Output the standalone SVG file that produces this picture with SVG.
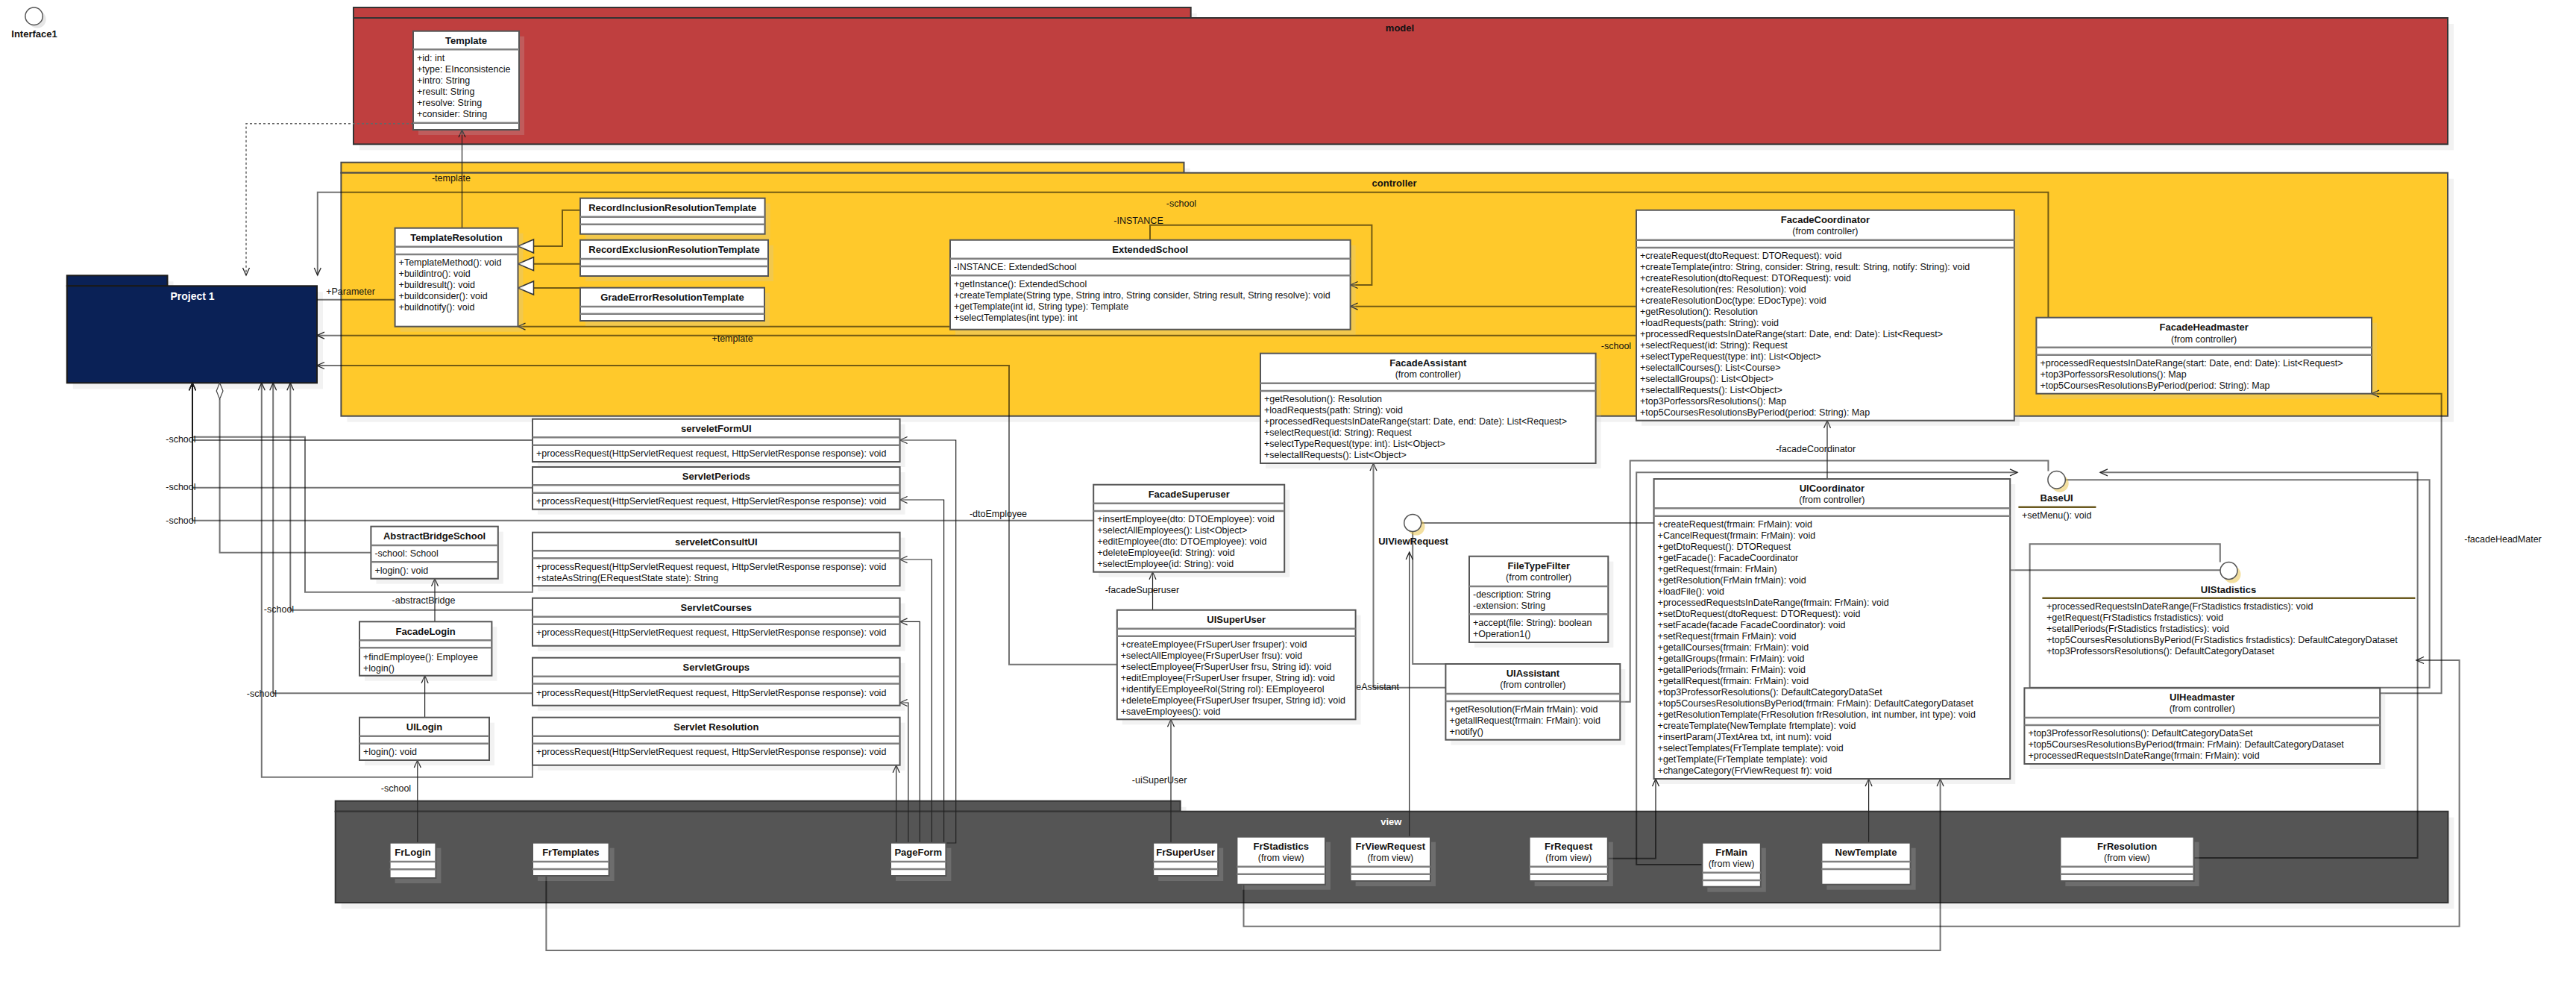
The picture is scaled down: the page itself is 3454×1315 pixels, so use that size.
<svg xmlns="http://www.w3.org/2000/svg" width="3454" height="1315" viewBox="0 0 3454 1315">
<defs>
<style>
text{font-family:"Liberation Sans",Arial,sans-serif;font-size:12.5px;fill:#111}
.ti{font-weight:bold;font-size:13px;text-anchor:middle}
.c{text-anchor:middle}
.sh{fill:#c5c5c5;fill-opacity:.22}
.bx{fill:#fff;stroke:#555;stroke-width:2}
.sp{stroke:#808080;stroke-width:2.5;fill:none}
.ln{fill:none;stroke:#000;stroke-opacity:.55;stroke-width:2}
.tn{fill:none;stroke:#222;stroke-width:1.2}
.ds{fill:none;stroke:#666;stroke-width:1.5;stroke-dasharray:3 3}
.pk{stroke:#333;stroke-width:2}
</style>
<marker id="ar" viewBox="-12 -6 14 12" refX="0" refY="0" markerWidth="14" markerHeight="12" markerUnits="userSpaceOnUse" orient="auto"><path d="M-10,-4.5L0,0L-10,4.5" fill="none" stroke="#222" stroke-width="1.3"/></marker>
<marker id="gen" viewBox="-23 -11 25 22" refX="0" refY="0" markerWidth="25" markerHeight="22" markerUnits="userSpaceOnUse" orient="auto"><path d="M0,0L-21,-9L-21,9Z" fill="#fff" stroke="#333" stroke-width="1.5"/></marker>
</defs>
<rect width="3454" height="1315" fill="#fff"/>

<g id="pkg-model">
<rect class="sh" x="482" y="18" width="1122.7" height="14"/><rect class="sh" x="482" y="32" width="2808" height="169.3"/>
<rect class="pk" x="474" y="10" width="1122.7" height="14" fill="#BF3F3F"/>
<rect class="pk" x="474" y="24" width="2808" height="169.3" fill="#BF3F3F"/>
<text class="ti" x="1877" y="42">model</text>
</g>
<g id="pkg-controller">
<rect class="sh" x="465.4" y="225.7" width="1130.1" height="14"/><rect class="sh" x="465.4" y="239.7" width="2824.6" height="326"/>
<rect x="457.4" y="217.7" width="1130.1" height="14" fill="#FFC92B" stroke="#4a4a4a" stroke-width="2"/>
<rect x="457.4" y="231.7" width="2824.6" height="326" fill="#FFC92B" stroke="#4a4a4a" stroke-width="2"/>
<text class="ti" x="1869.6" y="250">controller</text>
</g>
<g id="pkg-view">
<rect class="sh" x="457.7" y="1081.7" width="1132.9" height="14"/><rect class="sh" x="457.7" y="1095.7" width="2832.7" height="122.3"/>
<rect class="pk" x="449.7" y="1073.7" width="1132.9" height="14" fill="#555"/>
<rect class="pk" x="449.7" y="1087.7" width="2832.7" height="122.3" fill="#555"/>
<text class="ti" x="1865.3" y="1106" style="fill:#fff">view</text>
</g>
<g id="pkg-project1">
<rect class="sh" x="97.8" y="377.3" width="134.7" height="14"/><rect class="sh" x="97.8" y="391.3" width="335.2" height="130"/>
<rect x="89.8" y="369.3" width="134.7" height="14" fill="#0A2156" stroke="#1a1a1a" stroke-width="2"/>
<rect x="89.8" y="383.3" width="335.2" height="130" fill="#0A2156" stroke="#1a1a1a" stroke-width="2"/>
<text class="ti" x="258" y="402" style="fill:#fff;font-size:14px">Project 1</text>
</g>

<g id="connectors">
<path class="ds" d="M554,165.7H330V369" marker-end="url(#ar)"/>
<path class="tn" d="M619.5,305.7V174" marker-end="url(#ar)"/>
<path class="ln" d="M425,401.7H529.6"/>
<path class="ln" d="M778,281.7H754V330H694.5" marker-end="url(#gen)"/>
<path class="ln" d="M778,353.7H694.5" marker-end="url(#gen)"/>
<path class="ln" d="M778,386H694.5" marker-end="url(#gen)"/>
<path class="ln" d="M1274,437.7H694.5" marker-end="url(#ar)"/>
<path class="ln" d="M1542,321.7V301.7H1839.4V382H1810.6" marker-end="url(#ar)"/>
<path class="ln" d="M2194,410.7H1810.6" marker-end="url(#ar)"/>
<path class="ln" d="M2746.4,425.7V257.7H425.8V369" marker-end="url(#ar)"/>
<path class="ln" d="M2194,449.7H425" marker-end="url(#ar)"/>
<path class="ln" d="M1497.8,890.7H1353V490H425" marker-end="url(#ar)"/>
<path class="ln" d="M714,590H258V513.3" marker-end="url(#ar)"/>
<path class="ln" d="M714,653.7H258V513.3" marker-end="url(#ar)"/>
<path class="ln" d="M1466.2,697.7H258V513.3" marker-end="url(#ar)"/>
<path class="ln" d="M714,785.3V793.7H409V585.7H258V513.3" marker-end="url(#ar)"/>
<path class="tn" d="M258,697.7V513.3"/>
<path class="ln" d="M497.4,740.7H294.6V535"/>
<polygon points="294.6,513.3 299,524 294.6,535 290.2,524" fill="#fff" stroke="#444" stroke-width="1.2"/>
<path class="ln" d="M714,1025.7V1041.7H350.8V513.3" marker-end="url(#ar)"/>
<path class="ln" d="M714,929.3H366.2V513.3" marker-end="url(#ar)"/>
<path class="ln" d="M714,817.7H389.3V513.3" marker-end="url(#ar)"/>
<path class="tn" d="M583,833.3V775.7" marker-end="url(#ar)"/>
<path class="tn" d="M569.6,961.7V905.7" marker-end="url(#ar)"/>
<path class="tn" d="M559.8,1129.7V1019" marker-end="url(#ar)"/>
<path class="tn" d="M1201.7,1129.7V1025.7" marker-end="url(#ar)"/>
<path class="tn" d="M1217.9,1129.7V942H1206.6" marker-end="url(#ar)"/>
<path class="tn" d="M1233.3,1129.7V833.3H1206.6" marker-end="url(#ar)"/>
<path class="tn" d="M1249.4,1129.7V750H1206.6" marker-end="url(#ar)"/>
<path class="tn" d="M1265.6,1129.7V670H1206.6" marker-end="url(#ar)"/>
<path class="tn" d="M1268.4,1130H1281.7V590H1206.6" marker-end="url(#ar)"/>
<path class="tn" d="M1545.5,817.7V766.7" marker-end="url(#ar)"/>
<path class="tn" d="M1570,1129.7V964.3" marker-end="url(#ar)"/>
<path class="ln" d="M1938.4,921.7H1841.5V621" marker-end="url(#ar)"/>
<path class="tn" d="M1889.7,1121.7V740" marker-end="url(#ar)"/>
<path class="ln" d="M1938.4,890H1894.2V712.5"/>
<path class="ln" d="M1905.7,701H2217.6"/>
<path class="ln" d="M2172.3,940.7H2185.7V617.5H2746.4V631.6"/>
<path class="ln" d="M2282.4,1159H2194.2V633.3H2705" marker-end="url(#ar)"/>
<path class="ln" d="M2155.8,1150.7H2220V1044" marker-end="url(#ar)"/>
<path class="tn" d="M2505.6,1129.7V1044" marker-end="url(#ar)"/>
<path class="ln" d="M732.4,1174V1274H2601.6V1044" marker-end="url(#ar)"/>
<path class="tn" d="M2450,642V563.7" marker-end="url(#ar)"/>
<path class="ln" d="M2941.6,1150H3241.6V633.3H2816" marker-end="url(#ar)"/>
<path class="ln" d="M2769.3,643.3H3257.6V921.7H2721.6V729.3H2976.8V753.5"/>
<path class="ln" d="M2695.2,764.3H2977"/>
<path class="ln" d="M3191.2,929.3H3273.6V527.7H3180" marker-end="url(#ar)"/>
<path class="ln" d="M1667.5,1185.7V1241.7H3297.6V885H3240" marker-end="url(#ar)"/>
<text class="c" x="605" y="243">-template</text>
<text class="c" x="470" y="395">+Parameter</text>
<text class="c" x="1526.5" y="299.5">-INSTANCE</text>
<text class="c" x="1584" y="277">-school</text>
<text class="c" x="982" y="458">+template</text>
<text class="c" x="2167" y="467.5">-school</text>
<text class="c" x="242.4" y="593">-school</text>
<text class="c" x="242.4" y="657">-school</text>
<text class="c" x="242.4" y="701.5">-school</text>
<text class="c" x="374" y="821">-school</text>
<text class="c" x="351" y="933.5">-school</text>
<text class="c" x="531" y="1061">-school</text>
<text class="c" x="568" y="808.5">-abstractBridge</text>
<text class="c" x="1338.5" y="693">-dtoEmployee</text>
<text class="c" x="1531.4" y="795">-facadeSuperuser</text>
<text class="c" x="1554.6" y="1050">-uiSuperUser</text>
<text x="1876" y="925" text-anchor="end">-facadeAssistant</text>
<text class="c" x="2434.7" y="606">-facadeCoordinator</text>
<text class="c" x="3356" y="727">-facadeHeadMater</text>
</g>

<g id="Interface1"><circle cx="50" cy="26" r="11.7" fill="#e6e6e6"/><circle cx="45.6" cy="21.7" r="11.7" fill="#fff" stroke="#555" stroke-width="1.5"/><text class="ti" x="46" y="50">Interface1</text></g>

<g id="Template"><rect class="sh" x="561" y="48.7" width="142" height="132.3"/><rect class="bx" x="554" y="41.7" width="142" height="132.3"/><path class="sp" d="M554,66.3H696M554,164.7H696"/>
<text class="ti" x="625" y="58.5">Template</text>
<text x="559" y="82.2">+id: int</text><text x="559" y="97.2">+type: EInconsistencie</text><text x="559" y="112.2">+intro: String</text><text x="559" y="127.2">+result: String</text><text x="559" y="142.2">+resolve: String</text><text x="559" y="157.2">+consider: String</text></g>

<g id="TemplateResolution"><rect class="sh" x="536.6" y="312.7" width="164.9" height="132"/><rect class="bx" x="529.6" y="305.7" width="164.9" height="132"/><path class="sp" d="M529.6,330.7H694.5M529.6,341H694.5"/>
<text class="ti" x="612" y="322.8">TemplateResolution</text>
<text x="534.6" y="355.5">+TemplateMethod(): void</text><text x="534.6" y="370.5">+buildintro(): void</text><text x="534.6" y="385.5">+buildresult(): void</text><text x="534.6" y="400.5">+buildconsider(): void</text><text x="534.6" y="415.5">+buildnotify(): void</text></g>

<g id="RecordInclusionResolutionTemplate"><rect class="sh" x="785" y="272.7" width="247.6" height="48"/><rect class="bx" x="778" y="265.7" width="247.6" height="48"/><path class="sp" d="M778,290.7H1025.6M778,300.7H1025.6"/><text class="ti" x="901.8" y="282.5">RecordInclusionResolutionTemplate</text></g>
<g id="RecordExclusionResolutionTemplate"><rect class="sh" x="785" y="328.7" width="252" height="48.3"/><rect class="bx" x="778" y="321.7" width="252" height="48.3"/><path class="sp" d="M778,347H1030M778,357H1030"/><text class="ti" x="904" y="338.5">RecordExclusionResolutionTemplate</text></g>
<g id="GradeErrorResolutionTemplate"><rect class="sh" x="785" y="392.7" width="247" height="44.3"/><rect class="bx" x="778" y="385.7" width="247" height="44.3"/><path class="sp" d="M778,411H1025M778,420.7H1025"/><text class="ti" x="901.5" y="402.8">GradeErrorResolutionTemplate</text></g>

<g id="ExtendedSchool"><rect class="sh" x="1281" y="328.7" width="536.6" height="120"/><rect class="bx" x="1274" y="321.7" width="536.6" height="120"/><path class="sp" d="M1274,346.7H1810.6M1274,369.3H1810.6"/>
<text class="ti" x="1542.3" y="338.8">ExtendedSchool</text>
<text x="1279" y="362.2">-INSTANCE: ExtendedSchool</text>
<text x="1279" y="385.2">+getInstance(): ExtendedSchool</text><text x="1279" y="400.2">+createTemplate(String type, String intro, String consider, String result, String resolve): void</text><text x="1279" y="415.2">+getTemplate(int id, String type): Template</text><text x="1279" y="430.2">+selectTemplates(int type): int</text></g>

<g id="FacadeCoordinator"><rect class="sh" x="2201" y="288.7" width="506.8" height="282"/><rect class="bx" x="2194" y="281.7" width="506.8" height="282"/><path class="sp" d="M2194,321.7H2700.8M2194,332H2700.8"/>
<text class="ti" x="2447.4" y="299.2">FacadeCoordinator</text><text class="c" x="2447.4" y="314.2">(from controller)</text>
<text x="2199" y="346.8">+createRequest(dtoRequest: DTORequest): void</text>
<text x="2199" y="361.8">+createTemplate(intro: String, consider: String, result: String, notify: String): void</text>
<text x="2199" y="376.8">+createResolution(dtoRequest: DTORequest): void</text>
<text x="2199" y="391.8">+createResolution(res: Resolution): void</text>
<text x="2199" y="406.8">+createResolutionDoc(type: EDocType): void</text>
<text x="2199" y="421.8">+getResolution(): Resolution</text>
<text x="2199" y="436.8">+loadRequests(path: String): void</text>
<text x="2199" y="451.8">+processedRequestsInDateRange(start: Date, end: Date): List&lt;Request&gt;</text>
<text x="2199" y="466.8">+selectRequest(id: String): Request</text>
<text x="2199" y="481.8">+selectTypeRequest(type: int): List&lt;Object&gt;</text>
<text x="2199" y="496.8">+selectallCourses(): List&lt;Course&gt;</text>
<text x="2199" y="511.8">+selectallGroups(): List&lt;Object&gt;</text>
<text x="2199" y="526.8">+selectallRequests(): List&lt;Object&gt;</text>
<text x="2199" y="541.8">+top3PorfessorsResolutions(): Map</text>
<text x="2199" y="556.8">+top5CoursesResolutionsByPeriod(period: String): Map</text></g>

<g id="FacadeHeadmaster"><rect class="sh" x="2737.4" y="432.7" width="449.6" height="102"/><rect class="bx" x="2730.4" y="425.7" width="449.6" height="102"/><path class="sp" d="M2730.4,465.7H3180M2730.4,475.7H3180"/>
<text class="ti" x="2955.2" y="442.8">FacadeHeadmaster</text><text class="c" x="2955.2" y="458.5">(from controller)</text>
<text x="2735.4" y="491.2">+processedRequestsInDateRange(start: Date, end: Date): List&lt;Request&gt;</text><text x="2735.4" y="506.2">+top3PorfessorsResolutions(): Map</text><text x="2735.4" y="521.2">+top5CoursesResolutionsByPeriod(period: String): Map</text></g>

<g id="FacadeAssistant"><rect class="sh" x="1697" y="480.7" width="449.6" height="147.3"/><rect class="bx" x="1690" y="473.7" width="449.6" height="147.3"/><path class="sp" d="M1690,513.7H2139.6M1690,524H2139.6"/>
<text class="ti" x="1914.8" y="490.5">FacadeAssistant</text><text class="c" x="1914.8" y="506.2">(from controller)</text>
<text x="1695" y="539.2">+getResolution(): Resolution</text><text x="1695" y="554.2">+loadRequests(path: String): void</text><text x="1695" y="569.2">+processedRequestsInDateRange(start: Date, end: Date): List&lt;Request&gt;</text><text x="1695" y="584.2">+selectRequest(id: String): Request</text><text x="1695" y="599.2">+selectTypeRequest(type: int): List&lt;Object&gt;</text><text x="1695" y="614.2">+selectallRequests(): List&lt;Object&gt;</text></g>

<g id="FacadeSuperuser"><rect class="sh" x="1473.2" y="656.7" width="256" height="117"/><rect class="bx" x="1466.2" y="649.7" width="256" height="117"/><path class="sp" d="M1466.2,674.7H1722.2M1466.2,685H1722.2"/>
<text class="ti" x="1594.2" y="666.8">FacadeSuperuser</text>
<text x="1471.2" y="700.2">+insertEmployee(dto: DTOEmployee): void</text><text x="1471.2" y="715.2">+selectAllEmployees(): List&lt;Object&gt;</text><text x="1471.2" y="730.2">+editEmployee(dto: DTOEmployee): void</text><text x="1471.2" y="745.2">+deleteEmployee(id: String): void</text><text x="1471.2" y="760.2">+selectEmployee(id: String): void</text></g>

<g id="UISuperUser"><rect class="sh" x="1504.8" y="824.7" width="319.8" height="146.6"/><rect class="bx" x="1497.8" y="817.7" width="319.8" height="146.6"/><path class="sp" d="M1497.8,842.7H1817.6M1497.8,852.7H1817.6"/>
<text class="ti" x="1657.7" y="835.2">UISuperUser</text>
<text x="1502.8" y="868.2">+createEmployee(FrSuperUser frsuper): void</text><text x="1502.8" y="883.2">+selectAllEmployee(FrSuperUser frsu): void</text><text x="1502.8" y="898.2">+selectEmployee(FrSuperUser frsu, String id): void</text><text x="1502.8" y="913.2">+editEmployee(FrSuperUser frsuper, String id): void</text><text x="1502.8" y="928.2">+identifyEEmployeeRol(String rol): EEmployeerol</text><text x="1502.8" y="943.2">+deleteEmployee(FrSuperUser frsuper, String id): void</text><text x="1502.8" y="958.2">+saveEmployees(): void</text></g>

<g id="FileTypeFilter"><rect class="sh" x="1977" y="752.7" width="186.3" height="115.3"/><rect class="bx" x="1970" y="745.7" width="186.3" height="115.3"/><path class="sp" d="M1970,786H2156.3M1970,823.3H2156.3"/>
<text class="ti" x="2063.2" y="762.8">FileTypeFilter</text><text class="c" x="2063.2" y="777.8">(from controller)</text>
<text x="1975" y="801.2">-description: String</text><text x="1975" y="816.2">-extension: String</text><text x="1975" y="838.8">+accept(file: String): boolean</text><text x="1975" y="853.8">+Operation1()</text></g>

<g id="UIAssistant"><rect class="sh" x="1945.4" y="897" width="233.9" height="101.7"/><rect class="bx" x="1938.4" y="890" width="233.9" height="101.7"/><path class="sp" d="M1938.4,930H2172.3M1938.4,940H2172.3"/>
<text class="ti" x="2055.4" y="906.8">UIAssistant</text><text class="c" x="2055.4" y="921.8">(from controller)</text>
<text x="1943.4" y="955.2">+getResolution(FrMain frMain): void</text><text x="1943.4" y="970.2">+getallRequest(frmain: FrMain): void</text><text x="1943.4" y="985.2">+notify()</text></g>

<g id="UICoordinator"><rect class="sh" x="2224.6" y="649" width="477.6" height="402"/><rect class="bx" x="2217.6" y="642" width="477.6" height="402"/><path class="sp" d="M2217.6,681.3H2695.2M2217.6,691.7H2695.2"/>
<text class="ti" x="2456.4" y="658.8">UICoordinator</text><text class="c" x="2456.4" y="673.8">(from controller)</text>
<text x="2222.6" y="706.8">+createRequest(frmain: FrMain): void</text>
<text x="2222.6" y="721.8">+CancelRequest(frmain: FrMain): void</text>
<text x="2222.6" y="736.8">+getDtoRequest(): DTORequest</text>
<text x="2222.6" y="751.8">+getFacade(): FacadeCoordinator</text>
<text x="2222.6" y="766.8">+getRequest(frmain: FrMain)</text>
<text x="2222.6" y="781.8">+getResolution(FrMain frMain): void</text>
<text x="2222.6" y="796.8">+loadFile(): void</text>
<text x="2222.6" y="811.8">+processedRequestsInDateRange(frmain: FrMain): void</text>
<text x="2222.6" y="826.8">+setDtoRequest(dtoRequest: DTORequest): void</text>
<text x="2222.6" y="841.8">+setFacade(facade FacadeCoordinator): void</text>
<text x="2222.6" y="856.8">+setRequest(frmain FrMain): void</text>
<text x="2222.6" y="871.8">+getallCourses(frmain: FrMain): void</text>
<text x="2222.6" y="886.8">+getallGroups(frmain: FrMain): void</text>
<text x="2222.6" y="901.8">+getallPeriods(frmain: FrMain): void</text>
<text x="2222.6" y="916.8">+getallRequest(frmain: FrMain): void</text>
<text x="2222.6" y="931.8">+top3ProfessorResolutions(): DefaultCategoryDataSet</text>
<text x="2222.6" y="946.8">+top5CoursesResolutionsByPeriod(frmain: FrMain): DefaultCategoryDataset</text>
<text x="2222.6" y="961.8">+getResolutionTemplate(FrResolution frResolution, int number, int type): void</text>
<text x="2222.6" y="976.8">+createTemplate(NewTemplate frtemplate): void</text>
<text x="2222.6" y="991.8">+insertParam(JTextArea txt, int num): void</text>
<text x="2222.6" y="1006.8">+selectTemplates(FrTemplate template): void</text>
<text x="2222.6" y="1021.8">+getTemplate(FrTemplate template): void</text>
<text x="2222.6" y="1036.8">+changeCategory(FrViewRequest fr): void</text></g>

<g id="UIHeadmaster"><rect class="sh" x="2721.4" y="929.3" width="476.8" height="101.7"/><rect class="bx" x="2714.4" y="922.3" width="476.8" height="101.7"/><path class="sp" d="M2714.4,962H3191.2M2714.4,972H3191.2"/>
<text class="ti" x="2952.8" y="938.8">UIHeadmaster</text><text class="c" x="2952.8" y="954.2">(from controller)</text>
<text x="2719.4" y="986.8">+top3ProfessorResolutions(): DefaultCategoryDataSet</text><text x="2719.4" y="1001.8">+top5CoursesResolutionsByPeriod(frmain: FrMain): DefaultCategoryDataset</text><text x="2719.4" y="1016.8">+processedRequestsInDateRange(frmain: FrMain): void</text></g>

<g id="UIViewRequest"><circle cx="1899" cy="706" r="11.5" fill="#e8c040" opacity=".5"/><circle cx="1894.2" cy="701" r="11.5" fill="#fff" stroke="#555" stroke-width="1.5"/><text class="ti" x="1895" y="730">UIViewRequest</text></g>
<g id="BaseUI"><circle cx="2762" cy="648" r="11.7" fill="#e8c040" opacity=".5"/><circle cx="2757.6" cy="643.3" r="11.7" fill="#fff" stroke="#555" stroke-width="1.5"/><text class="ti" x="2757.6" y="672">BaseUI</text><path d="M2706.4,679.7H2810.4" stroke="#6b5a20" stroke-width="2.5"/><text x="2711" y="695">+setMenu(): void</text></g>
<g id="UIStadistics"><circle cx="2993" cy="770" r="11.5" fill="#e8c040" opacity=".5"/><circle cx="2988.5" cy="765" r="11.5" fill="#fff" stroke="#555" stroke-width="1.5"/><text class="ti" x="2988" y="794.5">UIStadistics</text><path d="M2738.4,801.7H3238.4" stroke="#6b5a20" stroke-width="2.5"/>
<text x="2744" y="817.2">+processedRequestsInDateRange(FrStadistics frstadistics): void</text><text x="2744" y="832.2">+getRequest(FrStadistics frstadistics): void</text><text x="2744" y="847.2">+setallPeriods(FrStadistics frstadistics): void</text><text x="2744" y="862.2">+top5CoursesResolutionsByPeriod(FrStadistics frstadistics): DefaultCategoryDataset</text><text x="2744" y="877.2">+top3ProfessorsResolutions(): DefaultCategoryDataset</text></g>

<g id="AbstractBridgeSchool"><rect class="sh" x="504.4" y="712.7" width="170.4" height="70"/><rect class="bx" x="497.4" y="705.7" width="170.4" height="70"/><path class="sp" d="M497.4,731H667.8M497.4,753.3H667.8"/>
<text class="ti" x="582.6" y="722.8">AbstractBridgeSchool</text><text x="502.4" y="746.2">-school: School</text><text x="502.4" y="768.8">+login(): void</text></g>
<g id="FacadeLogin"><rect class="sh" x="489" y="840.3" width="177.4" height="72.4"/><rect class="bx" x="482" y="833.3" width="177.4" height="72.4"/><path class="sp" d="M482,858.3H659.4M482,868.3H659.4"/>
<text class="ti" x="570.7" y="851.2">FacadeLogin</text><text x="487" y="884.5">+findEmployee(): Employee</text><text x="487" y="899.5">+login()</text></g>
<g id="UILogin"><rect class="sh" x="489" y="968.7" width="174" height="57.3"/><rect class="bx" x="482" y="961.7" width="174" height="57.3"/><path class="sp" d="M482,986.7H656M482,996.7H656"/>
<text class="ti" x="569" y="978.8">UILogin</text><text x="487" y="1012.2">+login(): void</text></g>

<g id="serveletFormUI"><rect class="sh" x="721" y="568.7" width="492.6" height="57.3"/><rect class="bx" x="714" y="561.7" width="492.6" height="57.3"/><path class="sp" d="M714,586.3H1206.6M714,596.7H1206.6"/>
<text class="ti" x="960.3" y="579.2">serveletFormUI</text><text x="719" y="612.2">+processRequest(HttpServletRequest request, HttpServletResponse response): void</text></g>
<g id="ServletPeriods"><rect class="sh" x="721" y="633" width="492.6" height="56.7"/><rect class="bx" x="714" y="626" width="492.6" height="56.7"/><path class="sp" d="M714,650.3H1206.6M714,660.7H1206.6"/>
<text class="ti" x="960.3" y="643.2">ServletPeriods</text><text x="719" y="676.2">+processRequest(HttpServletRequest request, HttpServletResponse response): void</text></g>
<g id="serveletConsultUI"><rect class="sh" x="721" y="720.7" width="492.6" height="71.6"/><rect class="bx" x="714" y="713.7" width="492.6" height="71.6"/><path class="sp" d="M714,738.3H1206.6M714,748.3H1206.6"/>
<text class="ti" x="960.3" y="730.8">serveletConsultUI</text><text x="719" y="764.2">+processRequest(HttpServletRequest request, HttpServletResponse response): void</text><text x="719" y="779.2">+stateAsString(ERequestState state): String</text></g>
<g id="ServletCourses"><rect class="sh" x="721" y="808.7" width="492.6" height="64"/><rect class="bx" x="714" y="801.7" width="492.6" height="64"/><path class="sp" d="M714,826.7H1206.6M714,836.7H1206.6"/>
<text class="ti" x="960.3" y="818.8">ServletCourses</text><text x="719" y="851.8">+processRequest(HttpServletRequest request, HttpServletResponse response): void</text></g>
<g id="ServletGroups"><rect class="sh" x="721" y="888.7" width="492.6" height="64"/><rect class="bx" x="714" y="881.7" width="492.6" height="64"/><path class="sp" d="M714,906.7H1206.6M714,916.5H1206.6"/>
<text class="ti" x="960.3" y="898.8">ServletGroups</text><text x="719" y="932.5">+processRequest(HttpServletRequest request, HttpServletResponse response): void</text></g>
<g id="ServletResolution"><rect class="sh" x="721" y="968.7" width="492.6" height="64"/><rect class="bx" x="714" y="961.7" width="492.6" height="64"/><path class="sp" d="M714,986.7H1206.6M714,996.7H1206.6"/>
<text class="ti" x="960.3" y="978.8">Servlet Resolution</text><text x="719" y="1012.2">+processRequest(HttpServletRequest request, HttpServletResponse response): void</text></g>

<g id="FrLogin"><rect class="sh" x="529.6" y="1136.7" width="61.8" height="47.3"/><rect class="bx" x="522.6" y="1129.7" width="61.8" height="47.3"/><path class="sp" d="M522.6,1155H584.4M522.6,1165.3H584.4"/><text class="ti" x="553.5" y="1146.8">FrLogin</text></g>
<g id="FrTemplates"><rect class="sh" x="721" y="1136.7" width="102.6" height="44.3"/><rect class="bx" x="714" y="1129.7" width="102.6" height="44.3"/><path class="sp" d="M714,1155H816.6M714,1165H816.6"/><text class="ti" x="765.3" y="1146.8">FrTemplates</text></g>
<g id="PageForm"><rect class="sh" x="1201" y="1136.7" width="74.4" height="44.3"/><rect class="bx" x="1194" y="1129.7" width="74.4" height="44.3"/><path class="sp" d="M1194,1155H1268.4M1194,1165H1268.4"/><text class="ti" x="1231.2" y="1146.8">PageForm</text></g>
<g id="FrSuperUser"><rect class="sh" x="1553.2" y="1136.7" width="87" height="44.3"/><rect class="bx" x="1546.2" y="1129.7" width="87" height="44.3"/><path class="sp" d="M1546.2,1155H1633.2M1546.2,1165H1633.2"/><text class="ti" x="1589.7" y="1146.8">FrSuperUser</text></g>
<g id="FrStadistics"><rect class="sh" x="1665.4" y="1128.7" width="118.6" height="64"/><rect class="bx" x="1658.4" y="1121.7" width="118.6" height="64"/><path class="sp" d="M1658.4,1161.7H1777M1658.4,1171.7H1777"/><text class="ti" x="1717.7" y="1138.8">FrStadistics</text><text class="c" x="1717.7" y="1154.2">(from view)</text></g>
<g id="FrViewRequest"><rect class="sh" x="1817.6" y="1128.7" width="107.4" height="59.3"/><rect class="bx" x="1810.6" y="1121.7" width="107.4" height="59.3"/><path class="sp" d="M1810.6,1161.7H1918M1810.6,1171.7H1918"/><text class="ti" x="1864.3" y="1138.8">FrViewRequest</text><text class="c" x="1864.3" y="1154.2">(from view)</text></g>
<g id="FrRequest"><rect class="sh" x="2057.6" y="1128.7" width="105.2" height="59.3"/><rect class="bx" x="2050.6" y="1121.7" width="105.2" height="59.3"/><path class="sp" d="M2050.6,1161.7H2155.8M2050.6,1171.7H2155.8"/><text class="ti" x="2103.2" y="1138.8">FrRequest</text><text class="c" x="2103.2" y="1154.2">(from view)</text></g>
<g id="FrMain"><rect class="sh" x="2289.4" y="1136.7" width="78.4" height="59"/><rect class="bx" x="2282.4" y="1129.7" width="78.4" height="59"/><path class="sp" d="M2282.4,1169.7H2360.8M2282.4,1180H2360.8"/><text class="ti" x="2321.6" y="1146.8">FrMain</text><text class="c" x="2321.6" y="1162.2">(from view)</text></g>
<g id="NewTemplate"><rect class="sh" x="2449.4" y="1136.7" width="119.2" height="56"/><rect class="bx" x="2442.4" y="1129.7" width="119.2" height="56"/><path class="sp" d="M2442.4,1155H2561.6M2442.4,1165H2561.6"/><text class="ti" x="2502" y="1146.8">NewTemplate</text></g>
<g id="FrResolution"><rect class="sh" x="2769.4" y="1128.7" width="179.2" height="59.3"/><rect class="bx" x="2762.4" y="1121.7" width="179.2" height="59.3"/><path class="sp" d="M2762.4,1161.7H2941.6M2762.4,1171.7H2941.6"/><text class="ti" x="2852" y="1138.8">FrResolution</text><text class="c" x="2852" y="1154.2">(from view)</text></g>
</svg>
